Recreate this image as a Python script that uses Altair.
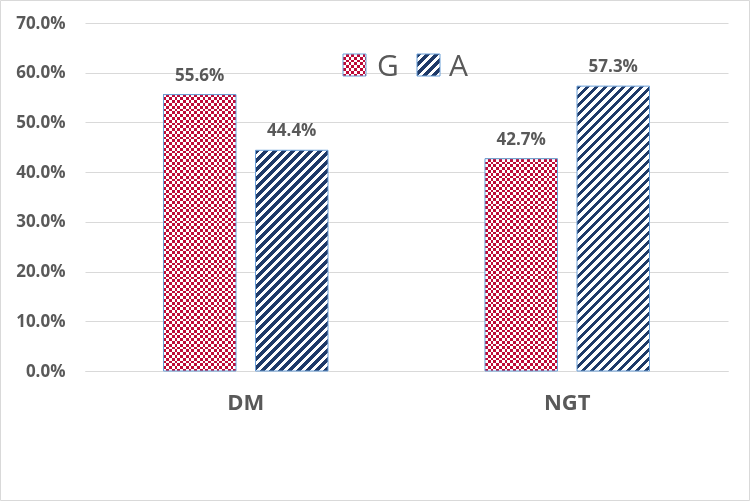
import altair as alt
import pandas as pd

# Share of each genotype within each group
groups = ["DM", "NGT"]
series = ["G", "A"]
g_share = [0.556, 0.427]
a_share = [0.444, 0.573]

rows = []
for i, grp in enumerate(groups):
    rows.append({"group": grp, "series": "G", "share": g_share[i]})
    rows.append({"group": grp, "series": "A", "share": a_share[i]})
df = pd.DataFrame(rows)
legend_df = pd.DataFrame({"series": series})

# Layout and style
W, H = 643, 348
Y_MAX = 0.7
PAD_INNER, PAD_OUTER = 0.212, 0.853
band = W / len(groups)
step = band / (len(series) - PAD_INNER + 2 * PAD_OUTER)
BAR_W = step * (1 - PAD_INNER)

RED = "#BE0A38"
NAVY = "#1F3A68"
EDGE = "#6A9FD8"
GRID = "#D9D9D9"
TEXT = "#595959"
FONT = "Open Sans"
CELL = 2.8       # checker cell size, px
STRIPE = 9.0     # diagonal stripe period, px


def band_stops(length_px, period_px, on_frac, c_on, c_off):
    """Hard-edged alternating stops along a gradient of the given pixel length."""
    p = period_px / length_px
    out = []
    k = 0
    while k * p < 1:
        a = k * p
        b = min((k + on_frac) * p, 1.0)
        c = min((k + 1) * p, 1.0)
        out += [(a, c_on), (b, c_on), (b, c_off), (c, c_off)]
        k += 1
    return [alt.GradientStop(offset=round(o, 5), color=col) for o, col in out]


def checker_layers(make, w, h):
    """Red/white checkerboard: XOR of two stripe fills, then tinted red."""
    vert = alt.LinearGradient(gradient="linear", x1=0, y1=0, x2=1, y2=0,
                              stops=band_stops(w, 2 * CELL, 0.5, "#000000", "#ffffff"))
    horiz = alt.LinearGradient(gradient="linear", x1=0, y1=0, x2=0, y2=1,
                               stops=band_stops(h, 2 * CELL, 0.5, "#ffffff", "#000000"))
    return [
        make(color=vert),
        make(color=horiz, blend="difference"),
        make(color=RED, blend="lighten"),
        make(fillOpacity=0, stroke=EDGE, strokeWidth=1),
    ]


def stripe_layers(make, w, h):
    """Navy upward-diagonal stripes at 45 degrees."""
    k = (w + h) / (w * w + h * h)
    grad = alt.LinearGradient(gradient="linear", x1=0, y1=0, x2=w * k, y2=h * k,
                              stops=band_stops(w + h, STRIPE, 0.47, NAVY, "#ffffff"))
    return [make(color=grad, stroke=EDGE, strokeWidth=1)]


x_enc = alt.X("group:N", sort=groups, title=None,
              scale=alt.Scale(paddingInner=0, paddingOuter=0),
              axis=alt.Axis(labelAngle=0, labelFont=FONT, labelFontSize=22,
                            labelFontWeight="bold", labelColor=TEXT, labelPadding=21,
                            ticks=False, domainColor=GRID, domainWidth=1, grid=False))
x_off = alt.XOffset("series:N", sort=series,
                    scale=alt.Scale(domain=series, paddingInner=PAD_INNER,
                                    paddingOuter=PAD_OUTER))
y_enc = alt.Y("share:Q", title=None,
              scale=alt.Scale(domain=[0, Y_MAX], nice=False),
              axis=alt.Axis(values=[i / 10 for i in range(8)], format=".1%",
                            labelFont=FONT, labelFontSize=17, labelFontWeight="bold",
                            labelColor=TEXT, labelPadding=20, ticks=False, domain=False,
                            grid=True, gridColor=GRID, gridWidth=1))

layers = []

# Outer chart border
layers.append(
    alt.Chart(pd.DataFrame({"k": [0]})).mark_rect(fillOpacity=0, stroke=GRID, strokeWidth=1)
    .encode(x=alt.value(-84.5), x2=alt.value(664.5), y=alt.value(-22.5), y2=alt.value(477.5))
)

# Bars, one set of layers per bar so each pattern fits its own size
for _, r in df.iterrows():
    base = (alt.Chart(df)
            .transform_filter((alt.datum.group == r["group"]) & (alt.datum.series == r["series"]))
            .encode(x=x_enc, xOffset=x_off, y=y_enc))
    make = (lambda b: (lambda **kw: b.mark_bar(**kw)))(base)
    h = r["share"] / Y_MAX * H
    if r["series"] == "G":
        layers += checker_layers(make, BAR_W, h)
    else:
        layers += stripe_layers(make, BAR_W, h)

# Value labels
layers.append(
    alt.Chart(df).mark_text(font=FONT, fontSize=17, fontWeight="bold", color=TEXT,
                            baseline="alphabetic", dy=-14)
    .encode(x=x_enc, xOffset=x_off, y=y_enc, text=alt.Text("share:Q", format=".1%"))
)

# Legend
SW = 23
legend_pos = {"G": (258, 292), "A": (332, 364)}
for s in series:
    sx, tx = legend_pos[s]
    lb = (alt.Chart(legend_df).transform_filter(alt.datum.series == s)
          .encode(x=alt.value(sx), x2=alt.value(sx + SW), y=alt.value(31), y2=alt.value(31 + SW - 1)))
    make = (lambda b: (lambda **kw: b.mark_rect(**kw)))(lb)
    if s == "G":
        layers += checker_layers(make, SW, SW - 1)
    else:
        layers += stripe_layers(make, SW, SW - 1)
    layers.append(
        alt.Chart(legend_df).transform_filter(alt.datum.series == s)
        .mark_text(font=FONT, fontSize=30, color=TEXT, align="left", baseline="alphabetic")
        .encode(x=alt.value(tx), y=alt.value(53), text="series:N")
    )

chart = (
    alt.layer(*layers)
    .properties(width=W, height=H, autosize=alt.AutoSizeParams(type="none"),
                padding={"left": 85, "top": 23, "right": 22, "bottom": 130},
                background="white")
    .configure_view(stroke=None)
)

chart.save("out.html", embed_options={"renderer": "svg", "actions": False})
